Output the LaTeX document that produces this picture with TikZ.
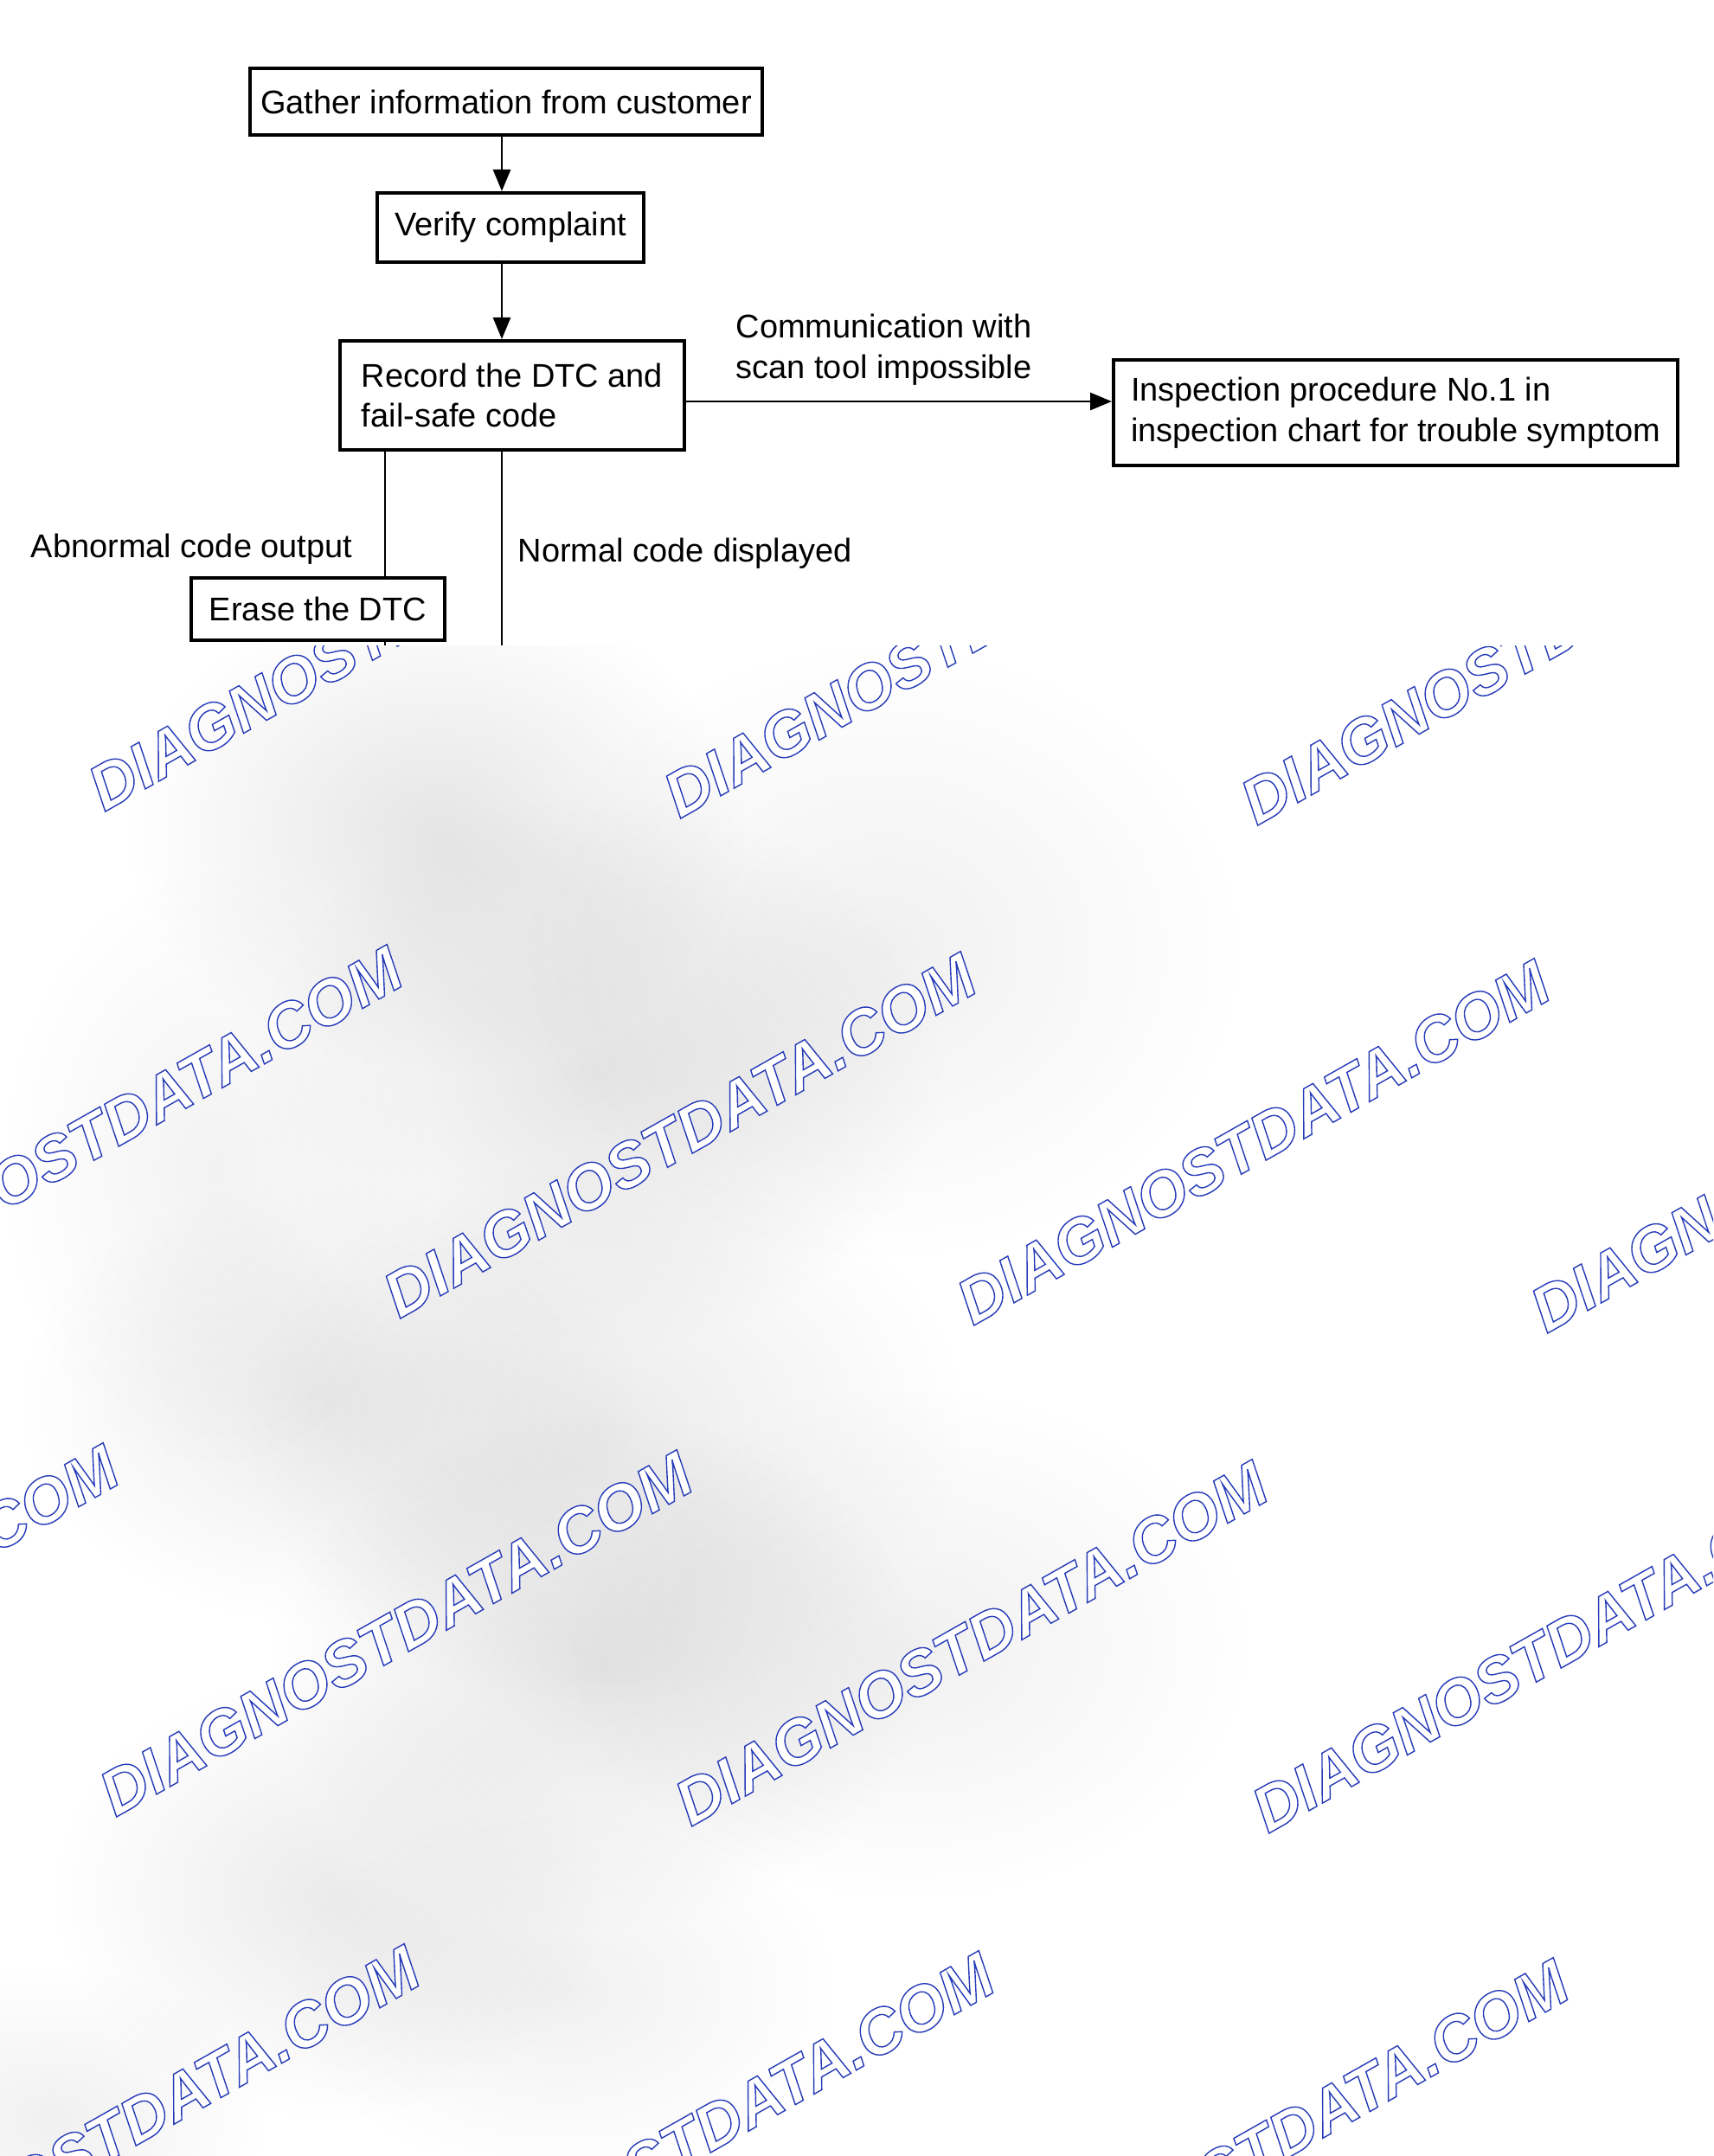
\documentclass[tikz,border=0pt]{standalone}
\usepackage{fontspec}
\setmainfont{Liberation Sans}
\newfontfamily\wmfont{Liberation Sans}
\usepackage{xcolor}
\usepackage{tikz}
\usetikzlibrary{positioning}
\usetikzlibrary{arrows.meta}
\usetikzlibrary{fadings}
\tikzfading[name=smudge, inner color=transparent!0, outer color=transparent!100]
\newcommand\outlined[1]{\special{pdf:literal direct 2 Tr 0.4 w 0.15 0.23 0.72 RG}#1\special{pdf:literal direct 0 Tr}}

\begin{document}
\begin{tikzpicture}[
        box/.style={draw, line width=1.15pt, inner sep=0pt},
        flow/.style={line width=0.8pt, -{Triangle[length=2.5mm,width=2mm]}},
        link/.style={line width=0.8pt},
        lbl/.style={inner sep=0pt},
        watermark/.style={anchor=base west, rotate=29.5, inner sep=0pt, text=white,
            font=\wmfont\bfseries\itshape\fontsize{20.9}{21}\selectfont}]
        \fontsize{10.8}{13.2}\selectfont
        \useasboundingbox (0,0) rectangle (19.80,-24.92);
        \begin{scope}
            \clip (0,-7.46) rectangle (19.80,-24.92);
            \foreach \cx/\cy/\rx/\ry/\op in {5.05/-9.6/3.6/2.8/0.10, 6.9/-12.4/4.0/3.2/0.10,
                10.2/-11.0/4.2/3.6/0.06, 2.5/-13.5/2.5/3.5/0.05, 3.8/-16.2/3.6/2.6/0.08,
                7.0/-16.5/4.2/3.2/0.08, 6.9/-19.3/3.8/3.0/0.10, 10.5/-19.0/4.0/3.0/0.06,
                3.8/-21.9/3.2/2.6/0.08, 6.5/-23.0/3.2/2.2/0.06, 0.6/-24.5/2.5/1.8/0.06}
                \fill[black, fill opacity=\op, path fading=smudge] (\cx,\cy) ellipse ({\rx} and {\ry});
            \foreach \wx/\wy in {1.20/-9.39, 7.85/-9.47, 14.52/-9.55,
                -2.02/-15.17, 4.61/-15.25, 11.24/-15.33, 17.87/-15.42,
                -5.30/-20.93, 1.33/-21.01, 7.98/-21.12, 14.65/-21.20,
                -1.82/-26.72, 4.82/-26.80, 11.46/-26.88, 18.10/-26.96}
                \node[watermark] at (\wx,\wy) {\outlined{DIAGNOSTDATA.COM}};
        \end{scope}
        \node[box, minimum width=5.92cm, minimum height=0.77cm] (gather) at (5.85,-1.175) {Gather information from customer};
        \node[box, minimum width=3.08cm, minimum height=0.80cm] (verify) at (5.90,-2.63) {Verify complaint};
        \node[box, minimum width=3.98cm, minimum height=1.26cm, align=left] (record) at (5.92,-4.57) {Record the DTC and\\fail-safe code};
        \node[box, minimum width=6.52cm, minimum height=1.22cm, align=left] (inspect) at (16.13,-4.77) {Inspection procedure No.1 in\\inspection chart for trouble symptom};
        \node[box, minimum width=2.93cm, minimum height=0.72cm] (erase) at (3.675,-7.04) {Erase the DTC};
        \coordinate (spine) at (5.80,-7.46);
        \coordinate (abn) at (4.45,-7.46);
        \coordinate (scan) at (0,-4.64);
        \draw[flow] (gather.south -| spine) -- (verify.north -| spine);
        \draw[flow] (verify.south -| spine) -- (record.north -| spine);
        \draw[flow] (record.east |- scan) -- (inspect.west |- scan);
        \draw[link] (record.south -| abn) -- (erase.north -| abn);
        \draw[link] (erase.south -| abn) -- (abn);
        \draw[link] (record.south -| spine) -- (spine);
        \node[lbl, anchor=west, align=left] (scanlbl) at (8.50,-4.04) {Communication with\\scan tool impossible};
        \node[lbl, anchor=east] (abnlbl) at (4.08,-6.35) {Abnormal code output};
        \node[lbl, anchor=west] (normlbl) at (5.98,-6.40) {Normal code displayed};
    \end{tikzpicture}
\end{document}
